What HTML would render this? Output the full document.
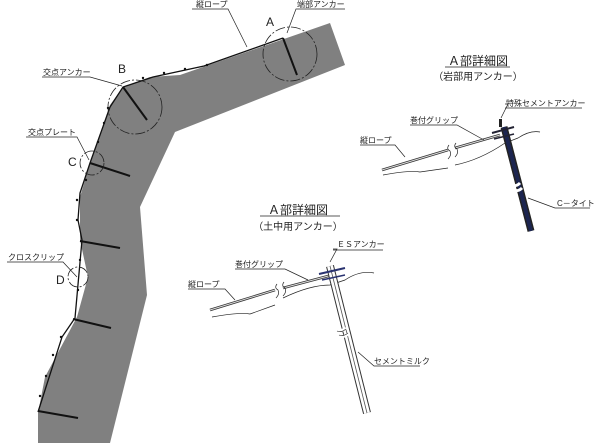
<!DOCTYPE html>
<html><head><meta charset="utf-8"><style>
html,body{margin:0;padding:0;background:#fff;}
svg{display:block;}
text{font-family:"Liberation Sans","Noto Sans CJK JP",sans-serif;fill:#222;}
.s{font-size:8px;}
</style></head><body>
<svg width="600" height="446" viewBox="0 0 600 446" xmlns="http://www.w3.org/2000/svg">
<polygon fill="#808080" points="330,23 345,65 175,132 140,207 147,295 110,443 38,443 38,413 45,377 77,317 88,277 80,240 80,197 90,163 110,105 123,87 150,77 180,75" />
<polyline fill="none" stroke="#111" stroke-width="1.3" points="283,38 204,66 153,77 123,87 110,107 90,163 80,193 78,220 82,240 75,318 62,337 38,412"/>
<g fill="#111">
<circle cx="207" cy="65" r="1.2"/><circle cx="185" cy="69" r="1.2"/><circle cx="164" cy="73" r="1.2"/><circle cx="143" cy="78" r="1.2"/>
<circle cx="108" cy="108" r="1.2"/><circle cx="104" cy="123" r="1.2"/><circle cx="98" cy="142" r="1.2"/><circle cx="86" cy="180" r="1.2"/>
<circle cx="77" cy="200" r="1.2"/><circle cx="77" cy="220" r="1.2"/><circle cx="80" cy="260" r="1.2"/><circle cx="78" cy="290" r="1.2"/>
<circle cx="61" cy="337" r="1.2"/><circle cx="53" cy="355" r="1.2"/><circle cx="46" cy="376" r="1.2"/><circle cx="40" cy="396" r="1.2"/>
</g>
<g stroke="#111" stroke-width="2">
<line x1="283" y1="38" x2="297" y2="75"/>
<line x1="123" y1="87" x2="147" y2="120"/>
<line x1="90" y1="163" x2="130" y2="176"/>
<line x1="80" y1="241" x2="120" y2="248"/>
<line x1="73" y1="319" x2="111" y2="328"/>
<line x1="38" y1="411" x2="78" y2="418"/>
</g>
<g fill="none" stroke="#222" stroke-width="0.8" stroke-dasharray="10,2,2,2">
<circle cx="290" cy="54" r="27"/>
<circle cx="135" cy="107" r="27"/>
<circle cx="92" cy="163" r="12"/>
<circle cx="78" cy="277" r="10"/>
</g>
<g fill="none" stroke="#222" stroke-width="0.7">
<polyline points="192,9 228,9 247,47"/>
<polyline points="345,9 296,9 287,33"/>
<polyline points="42,77 90,77 122,86"/>
<polyline points="26,137 77,137 89,160"/>
<polyline points="7,262 63,262 77,277"/>
</g>
<text class="s" x="196" y="7">縦ロープ</text>
<text class="s" x="297" y="7">端部アンカー</text>
<text x="266" y="26" font-size="12">A</text>
<text x="118" y="73" font-size="12">B</text>
<text class="s" x="43" y="75">交点アンカー</text>
<text class="s" x="28" y="135">交点プレート</text>
<text x="68" y="166" font-size="12">C</text>
<text class="s" x="8" y="260">クロスクリップ</text>
<text x="56" y="284" font-size="12">D</text>

<text x="478" y="65" font-size="12" text-anchor="middle">Ａ部詳細図</text>
<line x1="445" y1="67" x2="510" y2="67" stroke="#222" stroke-width="0.8"/>
<text x="478" y="80" font-size="10" text-anchor="middle">（岩部用アンカー）</text>
<path d="M383,175 Q410,170 420,172 L448,168 M455,165 Q480,160 505,143 L518,138 Q530,130 540,132" fill="none" stroke="#222" stroke-width="0.7"/>
<path d="M382,170 L448,150 M455,148 L500,135" fill="none" stroke="#333" stroke-width="2.5"/>
<path d="M382,170 L448,150 M455,148 L500,135" fill="none" stroke="#ddd" stroke-width="1"/>
<path d="M449,145 q-3,4 1,6 q2,4 -2,8 M456,143 q-3,4 1,6 q2,4 -2,8" fill="none" stroke="#222" stroke-width="0.7"/>
<line x1="504" y1="127" x2="531" y2="231" stroke="#222" stroke-width="7"/>
<line x1="504" y1="127" x2="531" y2="231" stroke="#1c2550" stroke-width="4"/>
<line x1="492" y1="133" x2="514" y2="127" stroke="#223" stroke-width="2"/>
<line x1="494" y1="139" x2="514" y2="134" stroke="#223" stroke-width="1.5"/>
<rect x="499" y="119" width="3" height="8" fill="#222"/>
<path d="M512,185 q4,2 8,-2 M514,190 q4,2 8,-2" stroke="#fff" stroke-width="3" fill="none"/>
<g fill="none" stroke="#222" stroke-width="0.7">
<polyline points="505,104 508,104 501,118"/>
<line x1="505" y1="108" x2="582" y2="108"/>
<polyline points="410,125 457,125 484,140"/>
<polyline points="360,145 395,145 405,157"/>
<polyline points="590,208 555,208 528,198"/>
</g>
<text class="s" x="506" y="106">特殊セメントアンカー</text>
<text class="s" x="410" y="123">巻付グリップ</text>
<text class="s" x="360" y="143">縦ロープ</text>
<text class="s" x="557" y="206">C－タイト</text>

<text x="298" y="214" font-size="12" text-anchor="middle">Ａ部詳細図</text>
<line x1="260" y1="216" x2="340" y2="216" stroke="#222" stroke-width="0.8"/>
<text x="298" y="230" font-size="10" text-anchor="middle">（土中用アンカー）</text>
<path d="M212,317 Q240,312 250,314 L275,305 M283,298 Q310,285 330,285 L345,280 Q360,270 374,273" fill="none" stroke="#222" stroke-width="0.7"/>
<path d="M210,310 L275,290 M283,288 L332,275" fill="none" stroke="#333" stroke-width="2.5"/>
<path d="M210,310 L275,290 M283,288 L332,275" fill="none" stroke="#ddd" stroke-width="1"/>
<path d="M277,284 q-3,4 1,6 q2,4 -2,8 M284,282 q-3,4 1,6 q2,4 -2,8" fill="none" stroke="#222" stroke-width="0.7"/>
<line x1="330" y1="266" x2="367" y2="413" stroke="#333" stroke-width="8"/>
<line x1="330" y1="266" x2="367" y2="413" stroke="#fff" stroke-width="6"/>
<line x1="330" y1="266" x2="367" y2="413" stroke="#555" stroke-width="0.8"/>
<line x1="319" y1="274" x2="345" y2="268" stroke="#2a3370" stroke-width="2"/>
<line x1="322" y1="280" x2="345" y2="275" stroke="#2a3370" stroke-width="1.5"/>
<path d="M337,330 q4,2 9,-2 M339,336 q4,2 9,-2" stroke="#fff" stroke-width="3" fill="none"/>
<path d="M337,331 q4,2 9,-2 M339,335 q4,2 9,-2" stroke="#222" stroke-width="0.6" fill="none"/>
<g fill="none" stroke="#222" stroke-width="0.7">
<polyline points="333,249 337,249 330,262"/>
<line x1="333" y1="250" x2="383" y2="250"/>
<polyline points="235,269 285,269 308,280"/>
<polyline points="188,289 225,289 235,300"/>
<polyline points="420,366 374,366 358,352"/>
</g>
<text class="s" x="337" y="247">ＥＳアンカー</text>
<text class="s" x="235" y="267">巻付グリップ</text>
<text class="s" x="188" y="287">縦ロープ</text>
<text class="s" x="374" y="364">セメントミルク</text>
</svg>
</body></html>
